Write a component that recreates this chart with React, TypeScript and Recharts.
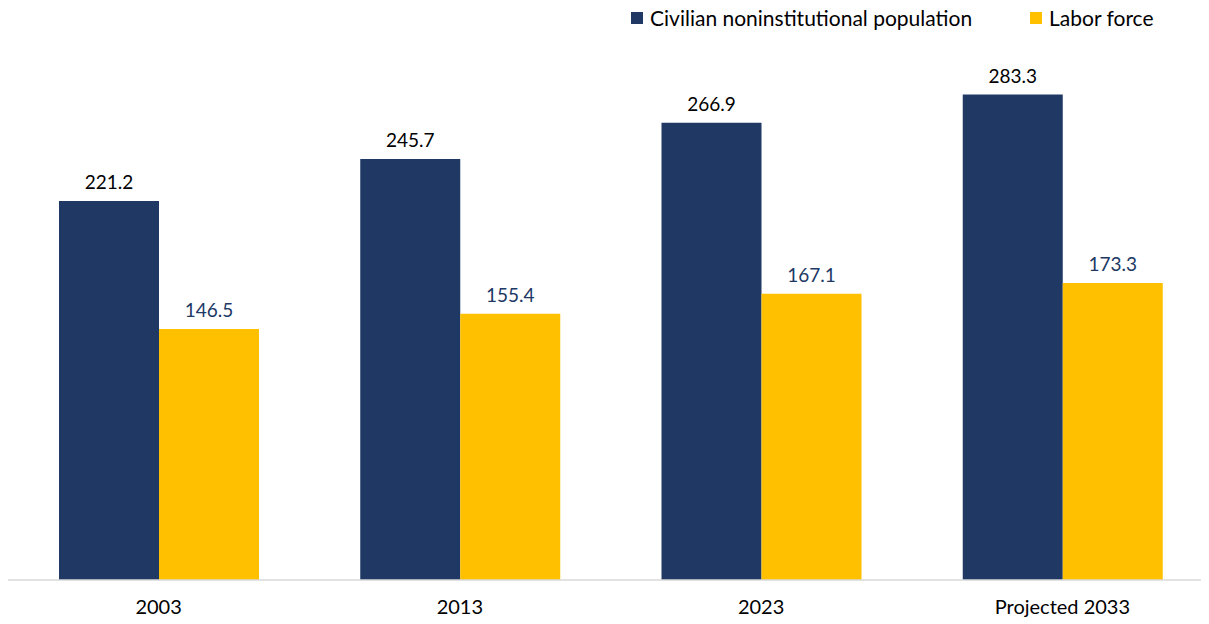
import React from 'react';
import { BarChart, Bar, XAxis, YAxis, Legend, LabelList } from 'recharts';

const categories = ['2003', '2013', '2023', 'Projected 2033'];
const populationValues = [221.2, 245.7, 266.9, 283.3];
const laborForceValues = [146.5, 155.4, 167.1, 173.3];

const data = categories.map((c, i) => ({
  name: c,
  population: populationValues[i],
  labor: laborForceValues[i],
}));

const FONT = 'Lato, "Open Sans", sans-serif';
const NAVY = '#203864';
const GOLD = '#FFC000';

const LegendContent = () => (
  <div style={{ position: 'relative', height: 30, fontFamily: FONT, fontSize: 21, color: '#000' }}>
    <div style={{ position: 'absolute', left: 623, top: -3, display: 'flex', alignItems: 'center' }}>
      <span style={{ width: 12, height: 12, background: NAVY, display: 'inline-block', marginRight: 7 }} />
      <span>Civilian noninstitutional population</span>
    </div>
    <div style={{ position: 'absolute', left: 1022, top: -3, display: 'flex', alignItems: 'center' }}>
      <span style={{ width: 12, height: 12, background: GOLD, display: 'inline-block', marginRight: 7 }} />
      <span>Labor force</span>
    </div>
  </div>
);

export default function App() {
  return (
    <BarChart
      width={1205}
      height={616}
      data={data}
      margin={{ top: 28, right: 0, bottom: 0, left: 0 }}
      barGap={0}
      barSize={100}
    >
      <Legend
        verticalAlign="top"
        align="left"
        content={<LegendContent />}
        wrapperStyle={{ top: 0, left: 0, width: 1205 }}
      />
      <XAxis
        dataKey="name"
        axisLine={{ stroke: '#d9d9d9', strokeWidth: 1.5 }}
        tickLine={false}
        height={44}
        tick={{ fill: '#000', fontSize: 20, fontFamily: FONT }}
        tickMargin={14}
        interval={0}
      />
      <YAxis hide domain={[0, 300]} />
      <Bar dataKey="population" fill={NAVY} isAnimationActive={false}>
        <LabelList dataKey="population" position="top" offset={12} fill="#000" fontSize={19} fontFamily={FONT} formatter={(v: number) => v.toFixed(1)} />
      </Bar>
      <Bar dataKey="labor" fill={GOLD} isAnimationActive={false}>
        <LabelList dataKey="labor" position="top" offset={12} fill={NAVY} fontSize={19} fontFamily={FONT} formatter={(v: number) => v.toFixed(1)} />
      </Bar>
    </BarChart>
  );
}
